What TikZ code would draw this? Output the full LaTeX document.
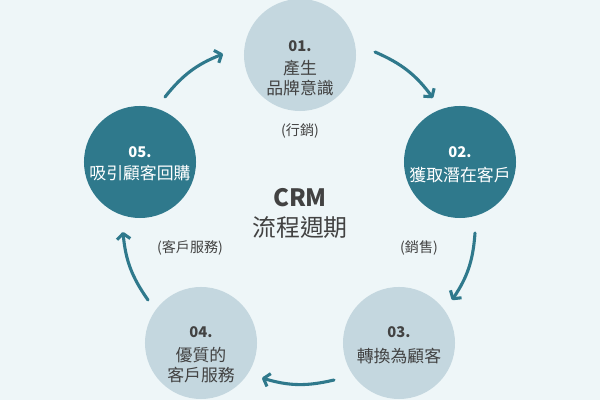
\documentclass[tikz,border=0pt]{standalone}
\usepackage{fontspec}
\setmainfont{Noto Sans CJK TC}
\usetikzlibrary{arrows.meta, positioning}
\definecolor{crmbg}{HTML}{EEF6F8}
\definecolor{crmpale}{HTML}{C4D7DF}
\definecolor{crmteal}{HTML}{2F798C}
\definecolor{crmink}{HTML}{424242}

\begin{document}
\begin{tikzpicture}[x=0.025cm, y=0.025cm,
  stage/.style={circle, inner sep=0pt, minimum size=2.8cm},
  stagenum/.style={font=\fontsize{10.5}{12}\selectfont\bfseries},
  stagetext/.style={font=\fontsize{12}{14.8}\selectfont, align=center},
  phase/.style={font=\fontsize{10}{11}\selectfont, text=crmink},
  cycle/.style={crmteal, line width=2.2pt, line cap=round,
    -{Straight Barb[length=4pt, width=9.5pt, line join=round]}, bend left=15}]
\fill[crmbg] (0,0) rectangle (600,400);
\useasboundingbox (0,0) rectangle (600,400);
% stage circles
\node[stage, fill=crmpale] (s1) at (300,345) {};
\node[stage, fill=crmteal] (s2) at (460,238) {};
\node[stage, fill=crmpale] (s3) at (399,57) {};
\node[stage, fill=crmpale] (s4) at (201,57) {};
\node[stage, fill=crmteal] (s5) at (140,238) {};
% stage texts
\node[stagenum, text=crmink] (n1) at (300,354) {01.};
\node[stagetext, text=crmink] (t1) at (300,322) {產生\\品牌意識};
\node[stagenum, text=white] (n2) at (460,248) {02.};
\node[stagetext, text=white] (t2) at (460,225) {獲取潛在客戶};
\node[stagenum, text=crmink] (n3) at (399,68) {03.};
\node[stagetext, text=crmink] (t3) at (399,44) {轉換為顧客};
\node[stagenum, text=crmink] (n4) at (201,68) {04.};
\node[stagetext, text=crmink] (t4) at (201,35) {優質的\\客戶服務};
\node[stagenum, text=white] (n5) at (140,248) {05.};
\node[stagetext, text=white] (t5) at (140,227) {吸引顧客回購};
% centre title
\node[font=\fontsize{17}{18}\selectfont\bfseries, text=crmink] (crm) at (300,202) {CRM};
\node[font=\fontsize{17}{19}\selectfont, text=crmink] (cyc) at (300,173) {流程週期};
% phase labels
\node[phase] (p1) at (300,269) {(行銷)};
\node[phase] (p2) at (419,152) {(銷售)};
\node[phase] (p3) at (190,152) {(客戶服務)};
% arrows
\coordinate (a1s) at (375,348); \coordinate (a1e) at (433,302);
\coordinate (a2s) at (475,167); \coordinate (a2e) at (452,100);
\coordinate (a3s) at (334,20);  \coordinate (a3e) at (262,22);
\coordinate (a4s) at (148,100); \coordinate (a4e) at (123,168);
\coordinate (a5s) at (165,303); \coordinate (a5e) at (223,346);
\draw[cycle] (a1s) to (a1e);
\draw[cycle] (a2s) to (a2e);
\draw[cycle] (a3s) to (a3e);
\draw[cycle] (a4s) to (a4e);
\draw[cycle] (a5s) to (a5e);
\end{tikzpicture}
\end{document}
